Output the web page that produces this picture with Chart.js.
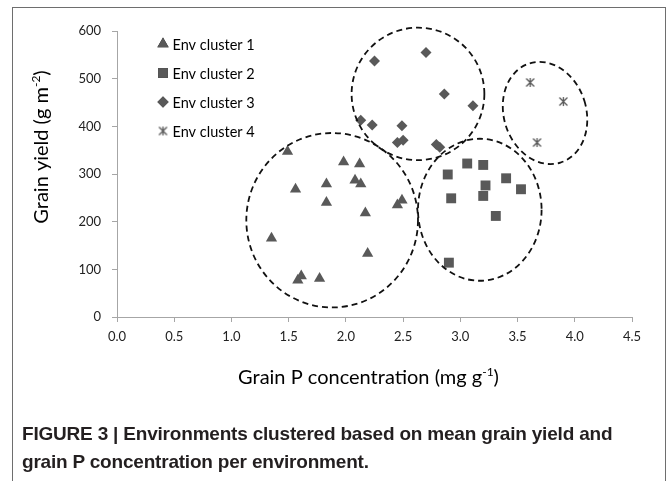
<!DOCTYPE html>
<html>
<head>
<meta charset="utf-8">
<script src="https://cdn.jsdelivr.net/npm/chart.js@4"></script>
<style>
  body { margin: 0; background: #fff; }
  #wrap { position: relative; width: 670px; height: 481px; overflow: hidden; }
  #frame { position: absolute; left: 12px; top: 7px; width: 652px; height: 500px;
           border: 1px solid #6e6e6e; border-bottom: none; }
  #chart { position: absolute; left: 0; top: 0; }
  #caption { position: absolute; left: 22px; top: 420px; font-family: "Liberation Sans Narrow", "Liberation Sans", sans-serif;
             font-weight: bold; font-size: 19px; line-height: 28px; letter-spacing: -0.2px; color: #231f20; white-space: nowrap; }
</style>
</head>
<body>
<div id="wrap">
  <div id="frame"></div>
  <canvas id="chart" width="670" height="481"></canvas>
  <div id="caption">FIGURE 3 | Environments clustered based on mean grain yield and<br>grain P concentration per environment.</div>
</div>
<script>
// Points: [grain P (mg/g), grain yield (g/m2)]
const cluster1 = [[1.49, 347], [1.56, 268], [1.35, 165], [1.58, 77], [1.61, 86], [1.77, 81],
                  [1.83, 279], [1.83, 240], [1.98, 325], [2.08, 287], [2.12, 321], [2.13, 279],
                  [2.17, 218], [2.19, 133], [2.45, 235], [2.49, 245]];
const cluster2 = [[3.06, 322], [3.20, 319], [2.89, 299], [3.40, 291], [3.22, 276], [3.53, 268],
                  [2.92, 249], [3.20, 254], [3.31, 212], [2.90, 114]];
const cluster3 = [[2.70, 555], [2.25, 537], [2.86, 468], [3.11, 443], [2.13, 413], [2.23, 403],
                  [2.49, 401], [2.45, 366], [2.50, 371], [2.79, 362], [2.82, 356]];
const cluster4 = [[3.61, 492], [3.90, 452], [3.67, 366]];
const seriesNames = ['Env cluster 1', 'Env cluster 2', 'Env cluster 3', 'Env cluster 4'];
const xTickLabels = ['0.0', '0.5', '1.0', '1.5', '2.0', '2.5', '3.0', '3.5', '4.0', '4.5'];
const yTickLabels = ['0', '100', '200', '300', '400', '500', '600'];
// dashed cluster outlines: [centre x, centre y, radius x, radius y] in data units
const clusterRings = [[1.88, 203, 0.75, 183], [3.17, 225, 0.54, 149], [2.63, 468, 0.58, 139], [3.74, 428, 0.36, 109]];

const markColor = '#595959';
const fontName = 'Lato, "Open Sans", sans-serif';

// 6-arm asterisk marker (Excel style)
function makeStar() {
    const c = document.createElement('canvas');
    c.width = 11; c.height = 11;
    const g = c.getContext('2d');
    g.strokeStyle = markColor;
    g.lineWidth = 1.3;
    g.beginPath();
    g.moveTo(5.5, 1); g.lineTo(5.5, 10);
    g.moveTo(1.5, 1.5); g.lineTo(9.5, 9.5);
    g.moveTo(9.5, 1.5); g.lineTo(1.5, 9.5);
    g.stroke();
    return c;
}
const starImg = makeStar();

const toPts = arr => arr.map(p => ({ x: p[0], y: p[1] }));

const ringsPlugin = {
    id: 'rings',
    afterDatasetsDraw(chart) {
        const { ctx, scales: { x, y } } = chart;
        ctx.save();
        ctx.strokeStyle = '#111';
        ctx.lineWidth = 1.8;
        ctx.setLineDash([6, 4]);
        clusterRings.forEach((r, i) => {
            const cx = x.getPixelForValue(r[0]);
            const cy = y.getPixelForValue(r[1]);
            const rx = x.getPixelForValue(r[0] + r[2]) - cx;
            const ry = cy - y.getPixelForValue(r[1] + r[3]);
            ctx.beginPath();
            ctx.ellipse(cx, cy, rx, ry, i === 3 ? -0.3 : 0, 0, Math.PI * 2);
            ctx.stroke();
        });
        ctx.restore();
    }
};

const decorPlugin = {
    id: 'decor',
    afterDraw(chart) {
        const ctx = chart.ctx;
        const area = chart.chartArea;
        ctx.save();
        ctx.fillStyle = '#000';
        // legend
        ctx.font = '14.5px ' + fontName;
        ctx.textBaseline = 'middle';
        chart.data.datasets.forEach((ds, i) => {
            const ly = 44 + i * 29;
            Chart.helpers.drawPoint(ctx, {
                pointStyle: ds.pointStyle, radius: ds.pointRadius, borderWidth: 0
            }, 163, ly);
            ctx.fillStyle = markColor;
            ctx.fill();
            ctx.fillStyle = '#000';
            ctx.fillText(ds.label, 172.5, ly + 1);
        });
        // axis titles with superscripts
        function titleWithSup(parts, cx, cy, rot) {
            ctx.save();
            ctx.translate(cx, cy);
            ctx.rotate(rot);
            ctx.textBaseline = 'alphabetic';
            ctx.textAlign = 'left';
            const big = '20px ' + fontName, small = '12px ' + fontName;
            let w = 0;
            parts.forEach(p => { ctx.font = p.sup ? small : big; w += ctx.measureText(p.t).width; });
            let px = -w / 2;
            parts.forEach(p => {
                ctx.font = p.sup ? small : big;
                ctx.fillText(p.t, px, p.sup ? -1 : 7);
                px += ctx.measureText(p.t).width;
            });
            ctx.restore();
        }
        titleWithSup([{ t: 'Grain P concentration (mg g' }, { t: '-1', sup: true }, { t: ')' }],
            (area.left + area.right) / 2 - 6, 377, 0);
        titleWithSup([{ t: 'Grain yield (g m' }, { t: '-2', sup: true }, { t: ')' }],
            41, 147, -Math.PI / 2);
        ctx.restore();
    }
};

new Chart(document.getElementById('chart'), {
    type: 'scatter',
    data: {
        datasets: [
            { label: seriesNames[0], data: toPts(cluster1), pointStyle: 'triangle', pointRadius: 6.5 },
            { label: seriesNames[1], data: toPts(cluster2), pointStyle: 'rect', pointRadius: 7 },
            { label: seriesNames[2], data: toPts(cluster3), pointStyle: 'rectRot', pointRadius: 5.5 },
            { label: seriesNames[3], data: toPts(cluster4), pointStyle: starImg, pointRadius: 5.5 }
        ].map(ds => Object.assign(ds, {
            backgroundColor: markColor, borderColor: markColor, borderWidth: 0
        }))
    },
    options: {
        responsive: false,
        animation: false,
        devicePixelRatio: 1,
        layout: { padding: { top: 31, right: 38, left: 0, bottom: 0 } },
        plugins: { legend: { display: false }, tooltip: { enabled: false } },
        scales: {
            x: {
                type: 'linear', min: 0, max: 4.5,
                afterFit: s => { s.height = 481 - 317; },
                afterBuildTicks: s => { s.ticks = xTickLabels.map(v => ({ value: parseFloat(v) })); },
                ticks: { callback: (v, i) => xTickLabels[i], color: '#222', padding: 7,
                         font: { family: fontName, size: 13 }, maxRotation: 0, autoSkip: false },
                grid: { drawOnChartArea: false, tickLength: 5, color: '#a6a6a6' },
                border: { color: '#a6a6a6', width: 1 }
            },
            y: {
                type: 'linear', min: 0, max: 600,
                afterFit: s => { s.width = 117; },
                afterBuildTicks: s => { s.ticks = yTickLabels.map(v => ({ value: parseFloat(v) })); },
                ticks: { callback: (v, i) => yTickLabels[i], color: '#222', padding: 11,
                         font: { family: fontName, size: 13 } },
                grid: { drawOnChartArea: false, tickLength: 5, color: '#a6a6a6' },
                border: { color: '#a6a6a6', width: 1 }
            }
        }
    },
    plugins: [ringsPlugin, decorPlugin]
});
</script>
</body>
</html>
